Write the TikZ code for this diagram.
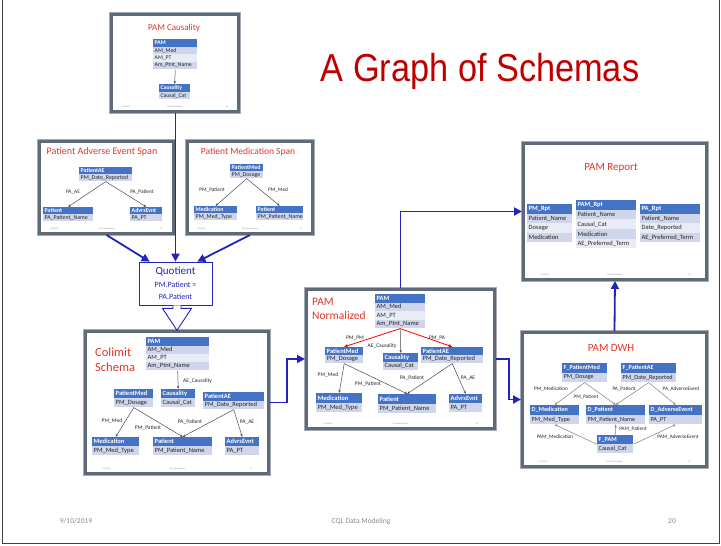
\documentclass[tikz,border=0pt]{standalone}
\usepackage{fontspec}
\setmainfont{Carlito}
\newfontfamily\headfont{Liberation Sans}
\usetikzlibrary{arrows.meta,fit,calc}

\definecolor{hdrblue}{HTML}{4472C4}
\definecolor{rowA}{HTML}{CFD5EA}
\definecolor{rowB}{HTML}{E9EBF5}
\definecolor{slidered}{HTML}{E0352B}
\definecolor{titlered}{HTML}{C00000}
\definecolor{flowblue}{HTML}{2222C0}
\definecolor{frameDark}{HTML}{5F6A78}
\definecolor{frameLight}{HTML}{A3ABB5}
\definecolor{footgray}{HTML}{8A8A8A}
\definecolor{edgegray}{HTML}{4A4A4A}

% table text size and edge label size (redefined per slide)
\newcommand\tsize{\fontsize{6}{7}\selectfont}
\newcommand\lsize{\fontsize{5.3}{6}\selectfont}

\tikzset{
  thead/.style={fill=hdrblue, text=white, font=\tsize\bfseries, inner xsep=1.5pt, inner ysep=0pt, anchor=north west, align=left},
  trow/.style={fill=rowA, text=black!85, font=\tsize, inner xsep=1.5pt, inner ysep=0pt, anchor=north west, align=left},
  slidebox/.style={draw=frameDark, line width=3pt, fill=white, preaction={draw=frameLight, line width=5.6pt}, anchor=north west, inner sep=0pt},
  stitle/.style={text=slidered, inner sep=0pt},
  rel/.style={draw=edgegray, line width=0.5pt, -{Stealth[length=2.8pt,width=2.4pt]}},
  relred/.style={draw=red, line width=0.8pt, -{Stealth[length=4pt,width=3.5pt]}},
  relgray/.style={draw=gray, line width=0.5pt, -{Stealth[length=2.8pt,width=2.4pt]}},
  lbl/.style={font=\lsize, inner sep=0pt, text=black!85},
  flow/.style={draw=flowblue, line width=1.8pt, -{Triangle[length=8pt,width=8pt]}},
  hollow/.style={draw=flowblue, line width=0.9pt, fill=white},
  foot/.style={font=\fontsize{2}{2}\selectfont, text=footgray, inner sep=0pt},
  pagefoot/.style={font=\fontsize{7.5}{8}\selectfont, text=footgray, inner sep=0pt, anchor=base},
}

% #1 name, #2 left x, #3 right x, #4 top y, #5 row height, #6 header, #7 rows
\newcommand\dbtable[7]{%
  \pgfmathsetmacro\tblw{#3-(#2)-3}%
  \node[thead, text width=\tblw pt, minimum height=#5pt] (#1-h) at (#2,#4) {#6};%
  \foreach \rowtxt [count=\ri] in {#7}{%
    \pgfmathtruncatemacro\rodd{mod(\ri,2)}%
    \ifnum\rodd=1 \def\rcol{rowA}\else\def\rcol{rowB}\fi
    \node[trow, fill=\rcol, text width=\tblw pt, minimum height=#5pt] (#1-\ri) at (#2,{#4+\ri*#5}) {\rowtxt};%
    \xdef\lastrow{\ri}%
  }%
  \node[fit=(#1-h)(#1-\lastrow), inner sep=0pt] (#1) {};%
}

% tiny footer line of a thumbnail slide
\newcommand\slidefoot[1]{%
  \node[foot] (#1-fa) at ($(#1.south west)!0.12!(#1.south east)+(0,-6)$) {9/10/2019};
  \node[foot] (#1-fb) at ($(#1.south)+(0,-6)$) {CQL Data Modeling};
  \node[foot] (#1-fc) at ($(#1.south west)!0.9!(#1.south east)+(0,-6)$) {20};
}

\begin{document}
\begin{tikzpicture}[x=1pt,y=-1pt]
\useasboundingbox (0,0) rectangle (721,546);
\fill[white] (0,0) rectangle (721,546);
\draw[black!75, line width=0.8pt] (2,0) -- (2,543) -- (719,543) -- (719,0);

% heading
\node[text=titlered, font=\headfont\fontsize{39}{40}\selectfont, anchor=base, inner sep=0pt] (title) at (480,81) {\scalebox{0.88}[1]{A Graph of Schemas}};

% page footer
\node[pagefoot] (pf1) at (76,523) {9/10/2019};
\node[pagefoot] (pf2) at (361,523) {CQL Data Modeling};
\node[pagefoot] (pf3) at (672,523) {20};

% slide frames
\node[slidebox, minimum width=127pt, minimum height=97pt] (s1) at (110,13) {};
\node[slidebox, minimum width=134pt, minimum height=92pt] (s2) at (38,140) {};
\node[slidebox, minimum width=125pt, minimum height=92pt] (s3) at (186,140) {};
\node[slidebox, minimum width=183pt, minimum height=142pt] (s5) at (84,330) {};
\node[slidebox, minimum width=188pt, minimum height=139pt] (s6) at (305,288) {};
\node[slidebox, minimum width=183pt, minimum height=136pt] (s7) at (522,142) {};
\node[slidebox, minimum width=184pt, minimum height=134pt] (s8) at (521,331) {};

% PAM Causality
\begin{scope}
  \renewcommand\tsize{\fontsize{5.7}{6.7}\selectfont}
  \node[stitle, font=\fontsize{9}{10}\selectfont] (s1-t) at (174,28) {PAM Causality};
  \dbtable{pam1}{153}{197}{39}{7.5}{PAM}{AM\_Med, AM\_PT, Am\_Ptnt\_Name}
  \dbtable{cau1}{159}{190}{84}{7.5}{Causality}{Causal\_Cat}
  \draw[rel] (pam1.south) -- (cau1.north);
  \slidefoot{s1}
\end{scope}

% Patient Adverse Event Span
\begin{scope}
  \renewcommand\tsize{\fontsize{5.9}{6.9}\selectfont}
  \node[stitle, font=\fontsize{10}{11}\selectfont] (s2-t) at (102,152) {Patient Adverse Event Span};
  \dbtable{pae2}{79}{132}{167}{7}{PatientAE}{PM\_Date\_Reported}
  \dbtable{pat2}{43}{93}{207}{7}{Patient}{PA\_Patient\_Name}
  \dbtable{adv2}{130}{162}{207}{7}{AdvrsEvnt}{PA\_PT}
  \draw[rel] (pae2.south) -- (pat2.north);
  \draw[rel] (pae2.south) -- (adv2.north);
  \node[lbl] (s2-l1) at (73,192) {PA\_AE};
  \node[lbl] (s2-l2) at (142,192) {PA\_Patient};
  \slidefoot{s2}
\end{scope}

% Patient Medication Span
\begin{scope}
  \renewcommand\tsize{\fontsize{5.9}{6.9}\selectfont}
  \node[stitle, font=\fontsize{9.5}{11}\selectfont] (s3-t) at (248,152) {Patient Medication Span};
  \dbtable{pmed3}{230}{263}{164}{7}{PatientMed}{PM\_Dosage}
  \dbtable{med3}{194}{237}{206}{7}{Medication}{PM\_Med\_Type}
  \dbtable{pat3}{256}{303}{206}{7}{Patient}{PM\_Patient\_Name}
  \draw[rel] (pmed3.south) -- (med3.north);
  \draw[rel] (pmed3.south) -- (pat3.north);
  \node[lbl] (s3-l1) at (212,190) {PM\_Patient};
  \node[lbl] (s3-l2) at (278,190) {PM\_Med};
  \slidefoot{s3}
\end{scope}

% Quotient
\node[draw=flowblue, line width=0.7pt, fill=white, minimum width=73pt, minimum height=43pt, inner sep=0pt, text=flowblue, align=center, font=\fontsize{8}{12.5}\selectfont] (q) at (175.5,283.5)
  {{\fontsize{11}{12}\selectfont Quotient}\\PM.Patient =\\PA.Patient};

% Colimit Schema
\begin{scope}
  \renewcommand\tsize{\fontsize{6.5}{7.5}\selectfont}
  \renewcommand\lsize{\fontsize{5.5}{6}\selectfont}
  \node[stitle, font=\fontsize{12.5}{15}\selectfont, anchor=west, align=left] (s5-t) at (95,359.5) {Colimit\\Schema};
  \dbtable{pam5}{146}{209}{337}{8.3}{PAM}{AM\_Med, AM\_PT, Am\_Ptnt\_Name}
  \dbtable{pmed5}{114}{153}{389}{9}{PatientMed}{PM\_Dosage}
  \dbtable{cau5}{161}{195}{389}{9}{Causality}{Causal\_Cat}
  \dbtable{pae5}{203}{264}{392}{8.5}{PatientAE}{PM\_Date\_Reported}
  \dbtable{med5}{92}{139}{437}{9}{Medication}{PM\_Med\_Type}
  \dbtable{pat5}{153}{212}{437}{9}{Patient}{PM\_Patient\_Name}
  \dbtable{adv5}{225}{259}{437}{9}{AdvrsEvnt}{PA\_PT}
  \draw[rel] (pam5.south) -- (cau5.north);
  \draw[rel] (pmed5.south) -- (med5.north);
  \draw[rel] (pmed5.south) -- (pat5.north);
  \draw[rel] (pae5.south) -- (pat5.north);
  \draw[rel] (pae5.south) -- (adv5.north);
  \node[lbl, anchor=west] (s5-l0) at (183,381) {AE\_Causality};
  \node[lbl] (s5-l1) at (112,421) {PM\_Med};
  \node[lbl] (s5-l2) at (148,428) {PM\_Patient};
  \node[lbl] (s5-l3) at (190,422) {PA\_Patient};
  \node[lbl] (s5-l4) at (247,422) {PA\_AE};
  \slidefoot{s5}
\end{scope}

% PAM Normalized
\begin{scope}
  \renewcommand\tsize{\fontsize{6.5}{7.5}\selectfont}
  \renewcommand\lsize{\fontsize{5.5}{6}\selectfont}
  \node[stitle, font=\fontsize{11.5}{14}\selectfont, anchor=west, align=left] (s6-t) at (312,309) {PAM\\Normalized};
  \dbtable{pam6}{375}{425}{294}{8.5}{PAM}{AM\_Med, AM\_PT, Am\_Ptnt\_Name}
  \dbtable{pmed6}{325}{363}{347}{8}{PatientMed}{PM\_Dosage}
  \dbtable{cau6}{383}{418}{353}{8.5}{Causality}{Causal\_Cat}
  \dbtable{pae6}{421}{483}{347}{8}{PatientAE}{PM\_Date\_Reported}
  \dbtable{med6}{316}{362}{393}{9.5}{Medication}{PM\_Med\_Type}
  \dbtable{pat6}{378}{436}{394}{9.5}{Patient}{PM\_Patient\_Name}
  \dbtable{adv6}{449}{482}{394}{9}{AdvrsEvnt}{PA\_PT}
  \draw[relred] (pam6.south) -- (pmed6.north);
  \draw[relred] (pam6.south) -- (pae6.north);
  \draw[rel] (pam6.south) -- (cau6.north);
  \draw[rel] (pmed6.south) -- (med6.north);
  \draw[rel] (pmed6.south) -- (pat6.north);
  \draw[rel] (pae6.south) -- (pat6.north);
  \draw[rel] (pae6.south) -- (adv6.north);
  \node[lbl] (s6-l0) at (355,338) {PM\_PM};
  \node[lbl] (s6-l1) at (437,338) {PM\_PA};
  \node[lbl] (s6-l2) at (382,346) {AE\_Causality};
  \node[lbl] (s6-l3) at (328,375) {PM\_Med};
  \node[lbl] (s6-l4) at (368,384) {PM\_Patient};
  \node[lbl] (s6-l5) at (412,378) {PA\_Patient};
  \node[lbl] (s6-l6) at (468,378) {PA\_AE};
  \slidefoot{s6}
\end{scope}

% PAM Report
\begin{scope}
  \renewcommand\tsize{\fontsize{6.5}{7.5}\selectfont}
  \node[stitle, font=\fontsize{11}{12}\selectfont] (s7-t) at (611,168) {PAM Report};
  \dbtable{pmr}{527}{572}{204}{9.5}{PM\_Rpt}{Patient\_Name, Dosage, Medication}
  \dbtable{pamr}{576}{636}{200}{9.6}{PAM\_Rpt}{Patient\_Name, Causal\_Cat, Medication, AE\_Preferred\_Term}
  \dbtable{par}{640}{700}{204}{9.5}{PA\_Rpt}{Patient\_Name, Date\_Reported, AE\_Preferred\_Term}
  \slidefoot{s7}
\end{scope}

% PAM DWH
\begin{scope}
  \renewcommand\tsize{\fontsize{6.2}{7.2}\selectfont}
  \renewcommand\lsize{\fontsize{5.2}{6}\selectfont}
  \node[stitle, font=\fontsize{11}{12}\selectfont] (s8-t) at (611,348) {PAM DWH};
  \dbtable{fpm}{562}{607}{363}{9.5}{F\_PatientMed}{PM\_Dosage}
  \dbtable{fpa}{621}{676}{363}{9.5}{F\_PatientAE}{PM\_Date\_Reported}
  \dbtable{dmed}{530}{579}{405}{9.5}{D\_Medication}{PM\_Med\_Type}
  \dbtable{dpat}{586}{645}{405}{9.5}{D\_Patient}{PM\_Patient\_Name}
  \dbtable{dadv}{649}{702}{405}{9.5}{D\_AdverseEvent}{PA\_PT}
  \dbtable{fpam}{597}{633}{435}{9}{F\_PAM}{Causal\_Cat}
  \draw[relgray] (fpm.south) -- (dmed.north);
  \draw[relgray] (fpm.south) -- (dpat.north);
  \draw[relgray] (fpa.south) -- (dpat.north);
  \draw[relgray] (fpa.south) -- (dadv.north);
  \draw[relgray] (fpam.west) -- (dmed.south);
  \draw[relgray] (fpam.north) -- (dpat.south);
  \draw[relgray] (fpam.east) -- (dadv.south);
  \node[lbl] (s8-l1) at (551,389) {PM\_Medication};
  \node[lbl] (s8-l2) at (586,397) {PM\_Patient};
  \node[lbl] (s8-l3) at (624,389) {PA\_Patient};
  \node[lbl] (s8-l4) at (681,389) {PA\_AdverseEvent};
  \node[lbl] (s8-l5) at (555,437) {PAM\_Medication};
  \node[lbl] (s8-l6) at (633,429) {PAM\_Patient};
  \node[lbl] (s8-l7) at (678,437) {PAM\_AdverseEvent};
  \slidefoot{s8}
\end{scope}

% flow between schemas
\draw[flow] (q.north |- s1.south) -- (q.north);
\draw[flow] (s2.south) -- ([xshift=11pt]q.north west);
\draw[flow] (s3.south) -- ([xshift=-15pt]q.north east);
\draw[hollow] ($(q.south)+(-2.5,0)$) -- ++(0,3) -- ++(-10.5,0) -- ($(q.south)+(1.5,25)$) -- ($(q.south)+(16,3)$) -- ++(-10.5,0) -- ++(0,-3);
\draw[flow] (s5.east) -- ++(17,0) |- (s6.west);
\draw[flow] (s6.north) |- (s7.west);
\draw[flow] (s6.east) -- ++(13,0) |- (s8.west);
\draw[flow] (s8.north) -- (s7.south);
\end{tikzpicture}
\end{document}
